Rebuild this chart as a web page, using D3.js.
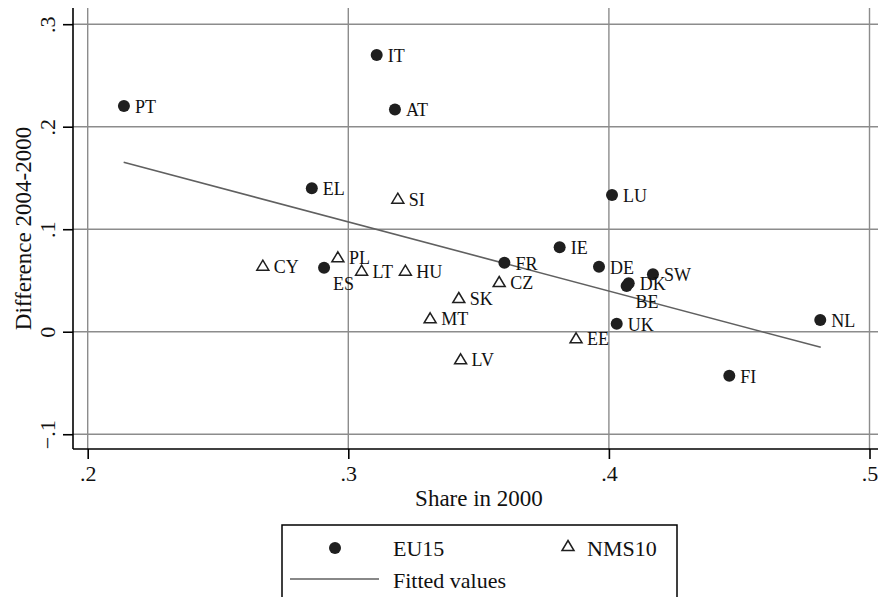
<!DOCTYPE html>
<html>
<head>
<meta charset="utf-8">
<script src="https://cdn.jsdelivr.net/npm/d3@7"></script>
<style>
	body { margin: 0; background: #fff; }
	text { font-family: "Liberation Serif", "Times New Roman", serif; fill: #111; }
</style>
</head>
<body>
<div id="vis"></div>
<script>
const width = 878;
const height = 597;

// EU15 countries
const euCodes = ["PT", "IT", "AT", "EL", "LU", "IE", "FR", "DE", "SW", "DK", "BE", "UK", "NL", "FI", "ES"];
const euShare = [.2139, .3109, .3179, .2860, .4012, .3811, .3599, .3962, .4169, .4076, .4068, .4030, .4811, .4462, .2907];
const euDiff = [.2202, .2700, .2168, .1399, .1334, .0823, .0673, .0634, .0560, .0472, .0446, .0078, .0114, -.0429, .0624];

// NMS10 countries
const nmsCodes = ["CY", "PL", "LT", "HU", "CZ", "SK", "MT", "LV", "EE", "SI"];
const nmsShare = [.2672, .2960, .3051, .3219, .3579, .3424, .3314, .3431, .3874, .3190];
const nmsDiff = [.0644, .0726, .0595, .0595, .0485, .0329, .0131, -.0269, -.0064, .1298];

// labels drawn under the marker instead of to the right
const belowLabels = ["ES", "BE"];

// fitted values (end points of the regression line)
const fitShare = [.2138, .4813];
const fitValue = [.1653, -.0152];

const xTicks = [.2, .3, .4, .5];
const yTicks = [-.1, 0, .1, .2, .3];

const fmt = v => v === 0 ? "0" : d3.format(".1f")(v).replace("0.", ".");

const x = d3.scaleLinear().domain([.19436, .50326]).range([73, 878]);
const y = d3.scaleLinear().domain([-.1144, .3158]).range([449, 8]);

const svg = d3.select("div#vis")
	.append("svg")
		.attr("width", width)
		.attr("height", height);

// grid
svg.append("g")
	.selectAll("line")
	.data(xTicks)
	.enter()
	.append("line")
		.attr("x1", d => x(d)).attr("x2", d => x(d))
		.attr("y1", y.range()[1]).attr("y2", y.range()[0])
		.attr("stroke", "#8c8c8c")
		.attr("stroke-width", 1.4);

svg.append("g")
	.selectAll("line")
	.data(yTicks)
	.enter()
	.append("line")
		.attr("x1", x.range()[0]).attr("x2", x.range()[1])
		.attr("y1", d => y(d)).attr("y2", d => y(d))
		.attr("stroke", "#8c8c8c")
		.attr("stroke-width", 1.4);

// axes
const xAxis = svg.append("g")
	.attr("transform", `translate(0,${y.range()[0]})`)
	.call(d3.axisBottom(x).tickValues(xTicks).tickSize(10).tickPadding(6).tickFormat(fmt));

const yAxis = svg.append("g")
	.attr("transform", `translate(${x.range()[0]},0)`)
	.call(d3.axisLeft(y).tickValues(yTicks).tickSize(10).tickPadding(8).tickFormat(fmt));

[xAxis, yAxis].forEach(ax => {
	ax.select(".domain").attr("stroke", "#000").attr("stroke-width", 1.6);
	ax.selectAll(".tick line").attr("stroke", "#000").attr("stroke-width", 1.6);
	ax.selectAll("text")
		.attr("font-family", "Liberation Serif, serif")
		.attr("font-size", 22)
		.attr("fill", "#111");
});
xAxis.selectAll(".domain").attr("d", `M${x.range()[0]},0H${x.range()[1]}`);
yAxis.selectAll(".domain").attr("d", `M0,${y.range()[0]}V${y.range()[1]}`);

// rotate y tick labels like Stata
yAxis.selectAll(".tick text")
	.attr("x", null).attr("dy", null)
	.attr("text-anchor", "middle")
	.attr("transform", "translate(-18,0) rotate(-90)");

// axis titles
svg.append("text")
	.attr("x", 479)
	.attr("y", 506)
	.attr("text-anchor", "middle")
	.attr("font-size", 23)
	.text("Share in 2000");

svg.append("text")
	.attr("transform", `translate(31,${(y.range()[0] + y.range()[1]) / 2}) rotate(-90)`)
	.attr("text-anchor", "middle")
	.attr("font-size", 23)
	.text("Difference 2004-2000");

// fitted line
svg.append("path")
	.datum(d3.zip(fitShare, fitValue))
	.attr("d", d3.line().x(d => x(d[0])).y(d => y(d[1])))
	.attr("fill", "none")
	.attr("stroke", "#606060")
	.attr("stroke-width", 1.6);

const tri = "M0,-5.5L6,4.5L-6,4.5Z";

// NMS10 markers
const nms = d3.zip(nmsCodes, nmsShare, nmsDiff);
svg.append("g")
	.selectAll("path")
	.data(nms)
	.enter()
	.append("path")
		.attr("d", tri)
		.attr("transform", d => `translate(${x(d[1])},${y(d[2])})`)
		.attr("fill", "none")
		.attr("stroke", "#1f1f1f")
		.attr("stroke-width", 1.5);

// EU15 markers
const eu = d3.zip(euCodes, euShare, euDiff);
svg.append("g")
	.selectAll("circle")
	.data(eu)
	.enter()
	.append("circle")
		.attr("cx", d => x(d[1]))
		.attr("cy", d => y(d[2]))
		.attr("r", 6)
		.attr("fill", "#1f1f1f");

// marker labels
svg.append("g")
	.selectAll("text")
	.data(eu.concat(nms))
	.enter()
	.append("text")
		.attr("x", d => x(d[1]) + (belowLabels.includes(d[0]) ? 9 : 11))
		.attr("y", d => y(d[2]) + (belowLabels.includes(d[0]) ? 22 : 7))
		.attr("font-size", 18)
		.text(d => d[0]);

// legend
const legend = svg.append("g");
legend.append("rect")
	.attr("x", 282).attr("y", 525)
	.attr("width", 395).attr("height", 90)
	.attr("fill", "#fff")
	.attr("stroke", "#000")
	.attr("stroke-width", 1.5);

legend.append("circle")
	.attr("cx", 335).attr("cy", 548)
	.attr("r", 6)
	.attr("fill", "#1f1f1f");
legend.append("text")
	.attr("x", 393).attr("y", 556)
	.attr("font-size", 22)
	.text("EU15");

legend.append("path")
	.attr("d", tri)
	.attr("transform", "translate(568,546)")
	.attr("fill", "none")
	.attr("stroke", "#1f1f1f")
	.attr("stroke-width", 1.5);
legend.append("text")
	.attr("x", 587).attr("y", 556)
	.attr("font-size", 22)
	.text("NMS10");

legend.append("line")
	.attr("x1", 290).attr("x2", 379)
	.attr("y1", 579).attr("y2", 579)
	.attr("stroke", "#606060")
	.attr("stroke-width", 1.6);
legend.append("text")
	.attr("x", 393).attr("y", 588)
	.attr("font-size", 22)
	.text("Fitted values");
</script>
</body>
</html>
